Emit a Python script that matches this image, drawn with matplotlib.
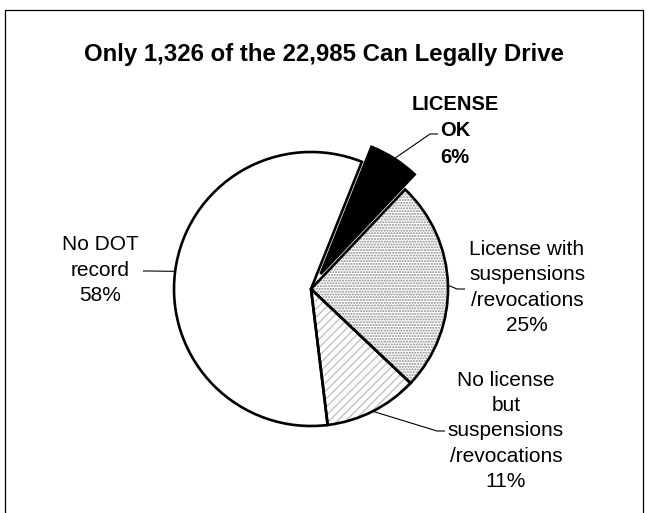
import matplotlib.pyplot as plt
import numpy as np

plt.rcParams['font.family'] = ['Liberation Sans', 'DejaVu Sans']
plt.rcParams['hatch.linewidth'] = 1.0

title = "Only 1,326 of the 22,985 Can Legally Drive"
labels = ["LICENSE\nOK", "License with\nsuspensions\n/revocations",
          "No license\nbut\nsuspensions\n/revocations", "No DOT\nrecord"]
shares = [6, 25, 11, 58]
explode = [0.13, 0, 0, 0]
fills = ["black", "white", "white", "white"]
hatches = [None, "......", "////", None]
hatch_colors = ["black", "#8a8a8a", "#c2c2c2", "white"]
bold = [True, False, False, False]

# canvas in pixel units, y measured from the top
W, H = 647, 513
fig = plt.figure(figsize=(W / 100, H / 100), dpi=100)
ax = fig.add_axes([0, 0, 1, 1])
ax.set_xlim(0, W)
ax.set_ylim(0, H)
ax.axis("off")

cx, cy, r = 311, H - 289, 137
start = 90 - 21.8
offsets = [e * r for e in explode]  # pie() takes explode in data units

# pattern layer, then outlines on top
fill_wedges, _ = ax.pie(shares, explode=offsets, colors=fills, hatch=hatches,
                        radius=r, center=(cx, cy), startangle=start,
                        counterclock=False, wedgeprops=dict(linewidth=0))
for w, hc in zip(fill_wedges, hatch_colors):
    w.set_edgecolor(hc)
    w.set_linewidth(0)
wedges, _ = ax.pie(shares, explode=offsets, radius=r, center=(cx, cy),
                   startangle=start, counterclock=False,
                   wedgeprops=dict(fill=False, edgecolor="black", linewidth=1.9))
ax.set_xlim(0, W)
ax.set_ylim(0, H)
ax.set_aspect("equal")

# leader lines: arc midpoint -> elbow -> end (pixel coords from top)
elbows = [(430, 134), (457, 289), (437, 431), (150, 271)]
ends = [(438, 134), (465, 289), (445, 431), (143, 271)]
text_pos = [(455, 131), (527, 287.5), (506, 431), (100, 270)]

for w, lab, v, el, en, tp, b in zip(wedges, labels, shares, elbows, ends, text_pos, bold):
    mid = np.deg2rad((w.theta1 + w.theta2) / 2)
    ax0 = w.center[0] + w.r * np.cos(mid)
    ay0 = w.center[1] + w.r * np.sin(mid)
    ax.plot([ax0, el[0], en[0]], [ay0, H - el[1], H - en[1]],
            color="black", lw=0.8, solid_capstyle="butt")
    ax.text(tp[0], H - tp[1], f"{lab}\n{v}%", ha="center", va="center",
            fontsize=14.5 if b else 15, linespacing=1.48 if b else 1.43,
            fontweight="bold" if b else "normal")

ax.text(W / 2, H - 54, title, ha="center", va="center",
        fontsize=17.3, fontweight="bold")

# chart area border
ax.plot([5, 5, 643, 643], [-5, H - 10, H - 10, -5], color="black", lw=0.9,
        clip_on=False)

fig.savefig("out.png", dpi=100)
